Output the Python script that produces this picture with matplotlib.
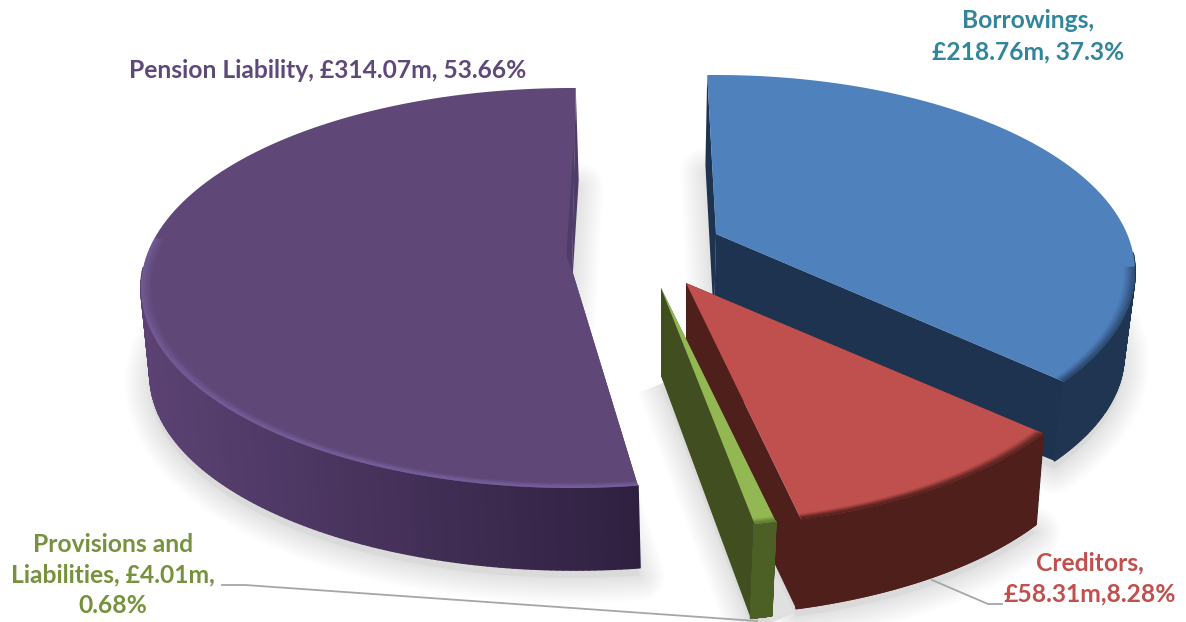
import numpy as np
import matplotlib
matplotlib.use("Agg")
import matplotlib.pyplot as plt
from matplotlib.collections import PolyCollection

# ---------- data ----------
categories = ["Borrowings", "Creditors", "Provisions and Liabilities", "Pension Liability"]
amounts = [218.76, 58.31, 4.01, 314.07]
labels = ["Borrowings,\n£218.76m, 37.3%",
          "Creditors,\n£58.31m,8.28%",
          "Provisions and\nLiabilities, £4.01m,\n0.68%",
          "Pension Liability, £314.07m, 53.66%"]
label_colors = ["#31859C", "#C0504D", "#76923C", "#5F497A"]

# ---------- view of each exploded slice (pixel space of the figure) ----------
views = {
 "Borrowings": dict(apex=(716, 234), top=(716, 272, 419, 197), bapex=(714, 322), bot=(714, 355, 410, 190),
                    rot=-1.2, warp=7.3, face="#4F81BD", wall=("#1F3552", "#1F3552"), cut="#1D3350",
                    rim="#1F3552", rim_alpha=0.45, rim_from=88),
 "Creditors": dict(apex=(686, 283), top=(686, 330, 420, 197), bapex=(686, 378), bot=(682, 423, 416, 193),
                   rot=1.7, warp=12.4, face="#C0504D", wall=("#4F1F1C", "#4F1F1C"), cut="#4F1F1C",
                   rim="#4F1F1C", rim_alpha=0.55, rim_from=0),
 "Provisions and Liabilities": dict(apex=(661, 288), top=(661, 332, 420, 197), bapex=(661, 376), bot=(658, 430, 416, 193),
                   rot=-0.4, warp=7.3, face="#93B853", wall=("#4C6026", "#4C6026"), cut="#414F20",
                   rim="#4C6026", rim_alpha=0.3, rim_from=0),
 "Pension Liability": dict(apex=(572, 270), top=(572, 288, 431, 200), bapex=(568, 350), bot=(575, 375, 425, 195),
                   rot=0.5, warp=-2.0, face="#5F4878", wall=("#5B4273", "#2F2040"), cut="#503C69",
                   rim="#7A62A0", rim_alpha=0.5, rim_from=75),
}
draw_order = ["Pension Liability", "Borrowings", "Creditors", "Provisions and Liabilities"]


def blend(c1, c2, t):
    a = np.array(matplotlib.colors.to_rgb(c1))
    b = np.array(matplotlib.colors.to_rgb(c2))
    return tuple(a + (b - a) * t)


def rim(ell, deg, shrink=0.0):
    cx, cy, rx, ry = ell
    t = np.radians(deg)
    return cx + (rx - shrink) * np.sin(t), cy - (ry - shrink * ry / rx) * np.cos(t)


# Slice spans follow from the amounts
total = sum(amounts)
spans = {}
start = 0.0
for cat, val in zip(categories, amounts):
    end = start + val / total * 360.0
    v = views[cat]
    f = lambda a: a + v["warp"] * np.sin(np.radians(2 * a)) + v["rot"]
    spans[cat] = (f(start), f(end))
    start = end

fig = plt.figure(figsize=(11.86, 6.22), dpi=100, facecolor="white")
ax = fig.add_axes([0, 0, 1, 1])
ax.set_xlim(0, 1186)
ax.set_ylim(622, 0)
ax.axis("off")

# soft drop shadows
for cat in draw_order:
    v = views[cat]
    a0, a1 = spans[cat]
    deg = np.linspace(a0, a1, 160)
    bx, by = rim(v["bot"], deg)
    px = np.r_[v["bapex"][0], bx]
    py = np.r_[v["bapex"][1], by] + 8
    for lw in np.linspace(36, 3, 14):
        ax.fill(px, py, facecolor="none", edgecolor="black", alpha=0.0075, lw=lw,
                joinstyle="round", zorder=1)
    ax.fill(px, py, facecolor="#DADADA", edgecolor="none", zorder=1)

for n, cat in enumerate(draw_order):
    v = views[cat]
    z = 2 + n
    a0, a1 = spans[cat]
    deg = np.linspace(a0, a1, 220)
    tx, ty = rim(v["top"], deg)
    bx, by = rim(v["bot"], deg)
    ax_, ay_ = v["apex"]
    bax, bay = v["bapex"]

    # cut walls sit behind the outer wall
    ax.fill([tx[0], ax_, bax, bx[0]], [ty[0], ay_, bay, by[0]], color=v["cut"], lw=0, zorder=z)
    ax.fill([tx[-1], ax_, bax, bx[-1]], [ty[-1], ay_, bay, by[-1]], color=v["cut"], lw=0, zorder=z)

    # outer wall, shaded along the arc (only the part facing the viewer)
    polys, cols = [], []
    for i in range(len(deg) - 1):
        mid = np.radians((deg[i] + deg[i + 1]) / 2)
        if np.cos(mid) > 0.1:
            continue
        polys.append([(tx[i], ty[i]), (tx[i + 1], ty[i + 1]), (bx[i + 1], by[i + 1]), (bx[i], by[i])])
        frac = np.clip((np.sin(mid) + 1) / 1.15, 0, 1)
        cols.append(blend(v["wall"][0], v["wall"][1], frac))
    ax.add_collection(PolyCollection(polys, facecolors=cols, edgecolors=cols, linewidths=1.2, zorder=z + 0.05))

    # top face
    face = ax.fill(np.r_[ax_, tx], np.r_[ay_, ty], color=v["face"], lw=0, zorder=z + 0.1)[0]

    # bevel along the rim
    arc = deg[np.cos(np.radians(deg)) < np.cos(np.radians(v["rim_from"]))]
    steps = 11
    for k in range(steps):
        sx, sy = rim(v["top"], arc, shrink=k * 1.1)
        line, = ax.plot(sx, sy, color=v["rim"], alpha=v["rim_alpha"] * (1 - k / steps) ** 1.4,
                        lw=1.6, zorder=z + 0.2, solid_capstyle="butt")
        line.set_clip_path(face)

    if cat == "Pension Liability":
        # narrow facet on the straight edge of the face
        fx = [tx[-1] + (ax_ - tx[-1]) * 0.2, ax_, ax_ + (tx[-1] - ax_) * 0.08 - 6]
        fy = [ty[-1] + (ay_ - ty[-1]) * 0.2, ay_, ay_ + (ty[-1] - ay_) * 0.08]
        ax.fill(fx, fy, color=v["cut"], lw=0, zorder=z + 0.3)

# data labels
font = ["Lato", "DejaVu Sans"]
label_pos = {"Borrowings": (1028, 36, "center"), "Creditors": (1090, 578, "center"),
             "Provisions and Liabilities": (113, 575, "center"), "Pension Liability": (328, 70, "center")}
for cat, text, col in zip(categories, labels, label_colors):
    x, y, ha = label_pos[cat]
    ax.text(x, y, text, color=col, ha=ha, va="center", fontsize=17.7, fontweight="bold",
            family=font, linespacing=1.42, zorder=20)

# leader lines
ax.plot([932, 988, 1002], [580, 604, 604], color="#A6A6A6", lw=1.3, zorder=20)
ax.plot([222, 245, 757], [585, 585, 621], color="#A6A6A6", lw=1.3, zorder=1.5)

fig.savefig("out.png", dpi=100)
